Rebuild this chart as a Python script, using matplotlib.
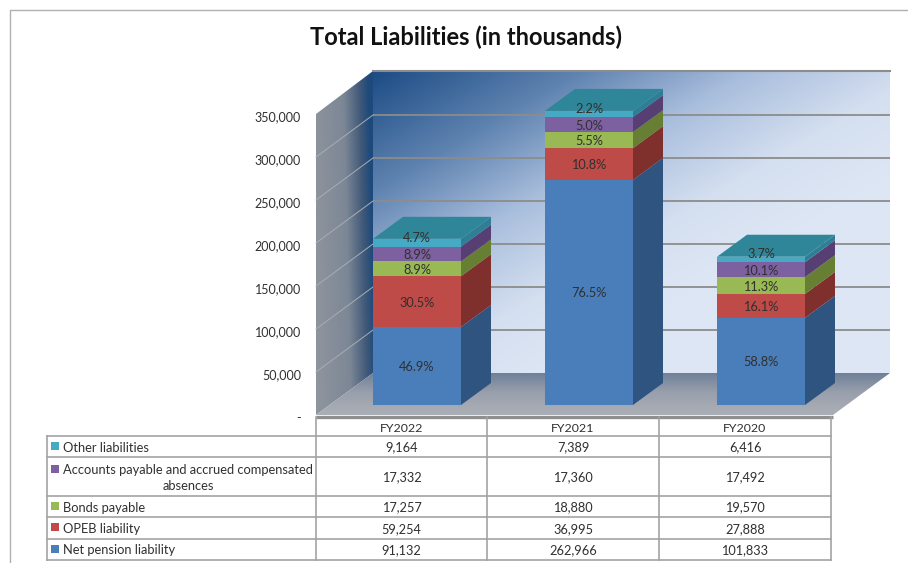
import numpy as np
import matplotlib
matplotlib.use("Agg")
import matplotlib.pyplot as plt
from matplotlib.patches import Polygon, Rectangle

plt.rcParams['font.family'] = ['Lato', 'DejaVu Sans']

# ---------- data ----------
categories = ['FY2022', 'FY2021', 'FY2020']
series_names = ['Net pension liability', 'OPEB liability', 'Bonds payable',
                'Accounts payable and accrued compensated\nabsences', 'Other liabilities']
net_pension = [91132, 262966, 101833]
opeb = [59254, 36995, 27888]
bonds = [17257, 18880, 19570]
accounts = [17332, 17360, 17492]
other = [9164, 7389, 6416]
pct_net_pension = ['46.9%', '76.5%', '58.8%']
pct_opeb = ['30.5%', '10.8%', '16.1%']
pct_bonds = ['8.9%', '5.5%', '11.3%']
pct_accounts = ['8.9%', '5.0%', '10.1%']
pct_other = ['4.7%', '2.2%', '3.7%']
y_ticks = [0, 50000, 100000, 150000, 200000, 250000, 300000, 350000]
y_labels = ['-', '50,000', '100,000', '150,000', '200,000', '250,000', '300,000', '350,000']
title = 'Total Liabilities (in thousands)'

values = [net_pension, opeb, bonds, accounts, other]
pcts = [pct_net_pension, pct_opeb, pct_bonds, pct_accounts, pct_other]
front = ['#4a7ebb', '#be4b48', '#98b954', '#7d60a0', '#46aac5']
side = ['#2f5480', '#7f2f2c', '#667f33', '#573f73', '#2e7f95']
top_col = '#2f8699'
swatch = ['#4a7ebb', '#be4b48', '#98b954', '#7d60a0', '#46aac5']
TXT = '#303030'
GRID = '#8c8c8c'
EDGE = '#a3a3a3'

W, H = 908, 563
fig = plt.figure(figsize=(W / 100, H / 100), dpi=100, facecolor='white')

# pixel-space axes: frame, walls, table
bg = fig.add_axes([0, 0, 1, 1], zorder=0)
bg.set_xlim(0, W); bg.set_ylim(H, 0); bg.axis('off')

# value axes: bars, scale px per unit, baseline at pixel 405
S = 0.856 / 1000
BASE = 405
ax = fig.add_axes([0, 0, 1, 1], zorder=1)
ax.patch.set_alpha(0)
ax.axis('off')
SP = 172.0
ax.set_xlim((0 - 417) / SP, (W - 417) / SP)
ax.set_ylim(-(H - BASE) / S, BASE / S)
DX = 30 / SP
DY = 22 / S
BW = 88 / SP
WS = 0.86 / 1000

# outer frame
bg.plot([10, 10, W], [H, 9.5, 9.5], color='#b0b0b0', lw=1.0)

def gradient(corners, stops, func, ext):
    u, v = np.meshgrid(np.linspace(0, 1, 200), np.linspace(0, 1, 200))
    t = np.clip(func(u, v), 0, 1)
    pos = [s[0] for s in stops]
    cols = np.array([matplotlib.colors.to_rgb(s[1]) for s in stops])
    img = np.dstack([np.interp(t, pos, cols[:, i]) for i in range(3)])
    im = bg.imshow(img, extent=ext, origin='upper', aspect='auto', zorder=1, interpolation='bilinear')
    im.set_clip_path(Polygon(corners, transform=bg.transData))

# back wall
gradient([(373, 71), (890, 71), (890, 373), (373, 373)],
         [(0, '#1c4c85'), (0.3, '#5f83b0'), (0.55, '#a9bedd'), (0.8, '#d4dff0'), (1, '#dde6f4')],
         lambda u, v: 0.75 * u + 0.75 * v, (373, 890, 373, 71))
# side wall
gradient([(316, 114), (373, 71), (373, 373), (316, 415)],
         [(0, '#8e949d'), (0.55, '#7c8796'), (0.85, '#3f5878'), (1, '#1d4a7c')],
         lambda u, v: u - 0.15 * v + 0.08, (316, 373, 415, 71))
# floor
gradient([(316, 415), (373, 373), (890, 373), (833, 415)],
         [(0, '#6f8099'), (0.5, '#989fac'), (1, '#a9adb5')],
         lambda u, v: v * 1.1, (316, 890, 415, 373))

# gridlines
for v in y_ticks[1:]:
    yb = 373 - v * WS
    if v < 350000:
        bg.plot([373, 890], [yb, yb], color=GRID, lw=1.3, zorder=2, solid_capstyle='butt')
        bg.plot([316, 373], [yb + 42, yb], color='#a9adb3', lw=0.7, zorder=2)
bg.plot([373, 890], [71, 71], color=GRID, lw=1.5, zorder=2)
bg.plot([316, 833], [416.5, 416.5], color='#8f8f8f', lw=2.4, zorder=2, solid_capstyle='butt')

# y tick labels
for v, lab in zip(y_ticks, y_labels):
    bg.text(301, 415 - v * WS + 3.2, lab, ha='right', va='center', fontsize=9.0, color=TXT)

# bars
x = np.arange(len(categories))
bottom = np.zeros(3)
for i, (vals, pc) in enumerate(zip(values, pcts)):
    vals = np.array(vals, float)
    ax.bar(x, vals, BW, bottom=bottom, color=front[i], linewidth=0, zorder=3)
    for k in range(3):
        xr = x[k] + BW / 2
        b, t = bottom[k], bottom[k] + vals[k]
        ax.fill([xr, xr + DX, xr + DX, xr], [b, b + DY, t + DY, t], color=side[i], lw=0, zorder=3)
        if i == len(values) - 1:
            xl = x[k] - BW / 2
            ax.fill([xl, xr, xr + DX, xl + DX], [t, t, t + DY, t + DY], color=top_col, lw=0, zorder=3)
        off = (6 if i == len(values) - 1 else 0) / S
        ax.text(x[k], (b + t) / 2 + off - 1.0 / S, pc[k], ha='center', va='center', fontsize=9.2,
                color=TXT, zorder=4)
    bottom += vals

# title
bg.text(466, 37.5, title, ha='center', va='center', fontsize=17, fontweight='bold', color='#111111')

# table
col_x = [316, 487, 659, 831]
row_y = [436, 457, 496, 517, 539, 560]
for cx in col_x:
    bg.plot([cx, cx], [417, 560], color=EDGE, lw=1.2, zorder=5)
bg.plot([47, 47], [436, 560], color=EDGE, lw=1.2, zorder=5)
for ry in row_y:
    bg.plot([47, 831], [ry, ry], color=EDGE, lw=1.2, zorder=5)
for k, c in enumerate(categories):
    bg.text((col_x[k] + col_x[k + 1]) / 2, 428.5, c, ha='center', va='center', fontsize=8.9, color=TXT)

rows = list(range(len(values) - 1, -1, -1))
for r, s_i in enumerate(rows):
    y0, y1 = row_y[r], row_y[r + 1]
    ym = (y0 + y1) / 2
    if s_i == 3:
        bg.text(63, y0 + 13.5, series_names[s_i].split('\n')[0], ha='left', va='center', fontsize=9.3, color=TXT)
        bg.text(188, y0 + 29.5, series_names[s_i].split('\n')[1], ha='center', va='center', fontsize=9.3, color=TXT)
        sy = y0 + 12
    else:
        bg.text(63, ym + 1, series_names[s_i], ha='left', va='center', fontsize=9.3, color=TXT)
        sy = ym - 1
    bg.add_patch(Rectangle((51, sy - 4), 8, 8, color=swatch[s_i], lw=0, zorder=5))
    for k in range(3):
        bg.text((col_x[k] + col_x[k + 1]) / 2, ym + 1, f'{values[s_i][k]:,}', ha='center', va='center',
                fontsize=9.2, color=TXT)

bg.set_xlim(0, W); bg.set_ylim(H, 0)
fig.savefig('out.png', dpi=100, facecolor='white')
